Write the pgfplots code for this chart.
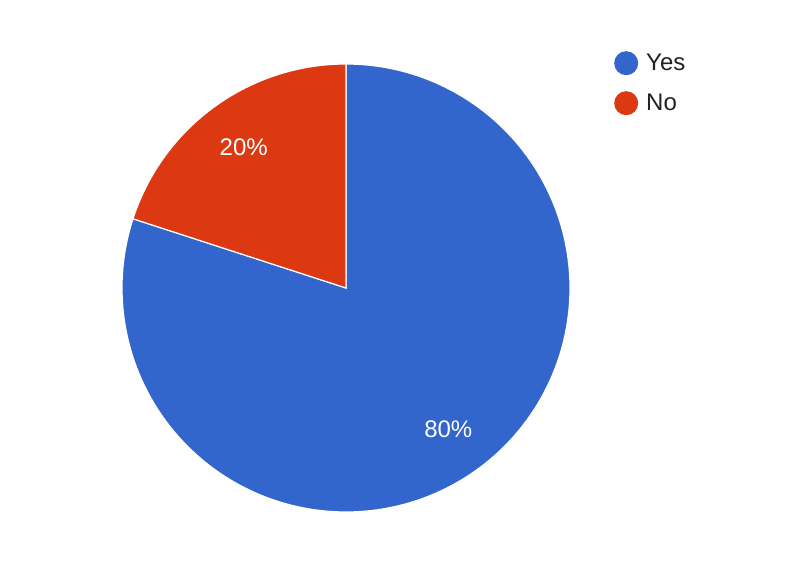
\documentclass[border=0pt]{standalone}
\usepackage{pgfplots}
\pgfplotsset{compat=1.18}
\usepackage{pgfplotstable}
\usepackage{fontspec}
\setmainfont{Liberation Sans}

\definecolor{gblue}{HTML}{3366CC}
\definecolor{gred}{HTML}{DC3912}
\definecolor{gtext}{HTML}{222222}

% answer shares in percent
\pgfplotstableread{
answer value
Yes    80
No     20
}\answers

\begin{document}
\begin{tikzpicture}
\pgfplotstablegetelem{0}{value}\of\answers \let\yesval\pgfplotsretval
\pgfplotstablegetelem{1}{value}\of\answers \let\noval\pgfplotsretval
% "No" starts at 12 o'clock and runs counter-clockwise, "Yes" fills the rest
\pgfmathsetmacro{\noend}{90+3.6*\noval}
\pgfmathsetmacro{\yesend}{\noend+3.6*\yesval}
\pgfmathsetmacro{\nomid}{(90+\noend)/2}
\pgfmathsetmacro{\yesmid}{(\noend+\yesend)/2}
\def\cx{346}\def\cy{289}\def\R{224}\def\rl{174}
\begin{axis}[
  width=807bp, height=577bp, scale only axis,
  xmin=0, xmax=807, ymin=0, ymax=577,
  enlargelimits=false,
  axis line style={draw=none}, ticks=none,
  axis background/.style={fill=white},
  clip=false,
  legend style={draw=none, fill=none, at={(axis cs:614,526)}, anchor=north west,
    font=\fontsize{24bp}{28bp}\selectfont\color{gtext},
    row sep=16bp, inner sep=0pt},
  legend cell align=left,
  legend image code/.code={\fill[#1, draw=none] (6bp,0bp) circle (12bp);},
]
\coordinate (frameSW) at (rel axis cs:0,0);
\coordinate (frameNE) at (rel axis cs:1,1);
\addplot[fill=gblue, draw=white, line width=1.2bp, domain=\noend:\yesend, samples=200]
  ({\cx+\R*cos(x)}, {\cy+\R*sin(x)}) -- (axis cs:\cx,\cy) -- cycle;
\addlegendentry{\hspace{6bp}Yes}
\addplot[fill=gred, draw=white, line width=1.2bp, domain=90:\noend, samples=60]
  ({\cx+\R*cos(x)}, {\cy+\R*sin(x)}) -- (axis cs:\cx,\cy) -- cycle;
\addlegendentry{\hspace{6bp}No}
\node[text=white, font=\fontsize{24bp}{28bp}\selectfont]
  at (axis cs:{\cx+\rl*cos(\nomid)},{\cy+\rl*sin(\nomid)}) {\noval\%};
\node[text=white, font=\fontsize{24bp}{28bp}\selectfont]
  at (axis cs:{\cx+\rl*cos(\yesmid)},{\cy+\rl*sin(\yesmid)}) {\yesval\%};
\end{axis}
\pgfresetboundingbox
\path[use as bounding box] (frameSW) rectangle (frameNE);
\end{tikzpicture}
\end{document}
